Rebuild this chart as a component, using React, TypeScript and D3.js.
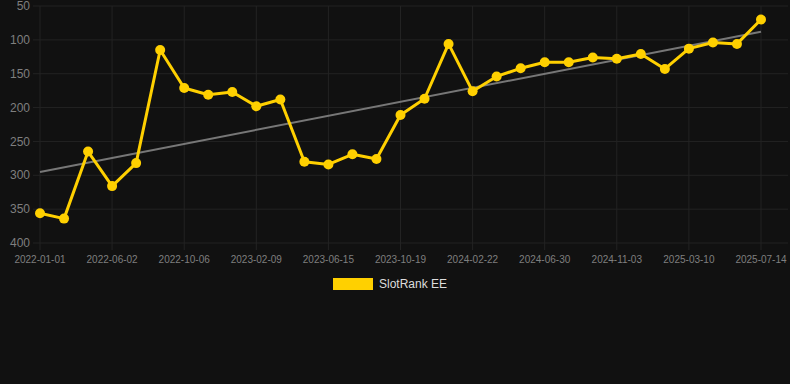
import React, { useEffect } from "react";
import * as d3 from "d3";

const categories = [
  "2022-01-01", "2022-03-12", "2022-04-21", "2022-06-02", "2022-07-14", "2022-08-25",
  "2022-10-06", "2022-11-17", "2022-12-29", "2023-02-09", "2023-03-23", "2023-05-04",
  "2023-06-15", "2023-07-27", "2023-09-07", "2023-10-19", "2023-11-30", "2024-01-11",
  "2024-02-22", "2024-04-04", "2024-05-17", "2024-06-30", "2024-08-11", "2024-09-22",
  "2024-11-03", "2024-12-15", "2025-01-26", "2025-03-10", "2025-04-21", "2025-06-02",
  "2025-07-14",
];

const rankValues = [
  356, 364, 265, 316, 282, 115, 171, 181, 177, 198, 188, 280, 284, 269, 276, 211,
  187, 106, 176, 154, 142, 133, 133, 126, 128, 121, 143, 113, 104, 106, 70,
];

const trendValues = [295, 88];
const yTicks = [50, 100, 150, 200, 250, 300, 350, 400];
const xTickEvery = 3;
const seriesName = "SlotRank EE";

const W = 790;
const H = 384;
const M = { left: 40, right: 29, top: 6, bottom: 141 };

export default function App() {
  useEffect(() => {
    document.body.style.margin = "0";
    document.body.style.background = "#111111";
  }, []);

  const x = d3
    .scalePoint<string>()
    .domain(categories)
    .range([M.left, W - M.right]);
  const y = d3.scaleLinear().domain([50, 400]).range([M.top, H - M.bottom]);

  const line = d3
    .line<number>()
    .x((_, i) => x(categories[i]) as number)
    .y((d) => y(d));

  const font = "Arial, 'Liberation Sans', Helvetica, sans-serif";
  const gridColor = "#232323";
  const labelColor = "#7f7f7f";
  const x0 = x(categories[0]) as number;
  const x1 = x(categories[categories.length - 1]) as number;

  return (
    <svg width={W} height={H} style={{ display: "block", background: "#111111" }}>
      {yTicks.map((t) => (
        <g key={"y" + t}>
          <line x1={33} x2={788} y1={y(t)} y2={y(t)} stroke={gridColor} strokeWidth={1} />
          <text
            x={30}
            y={y(t)}
            dy="0.35em"
            textAnchor="end"
            fill={labelColor}
            fontSize={12}
            fontFamily={font}
          >
            {t}
          </text>
        </g>
      ))}
      {categories.map((c, i) =>
        i % xTickEvery === 0 ? (
          <g key={"x" + c}>
            <line
              x1={x(c)}
              x2={x(c)}
              y1={M.top}
              y2={H - M.bottom + 7}
              stroke={gridColor}
              strokeWidth={1}
            />
            <text
              x={x(c)}
              y={259}
              dy="0.35em"
              textAnchor="middle"
              fill={labelColor}
              fontSize={10}
              fontFamily={font}
            >
              {c}
            </text>
          </g>
        ) : null
      )}
      <line
        x1={x0}
        x2={x1}
        y1={y(trendValues[0])}
        y2={y(trendValues[1])}
        stroke="#777777"
        strokeWidth={2}
      />
      <path d={line(rankValues) || ""} fill="none" stroke="#FFD000" strokeWidth={3} strokeLinejoin="round" />
      {rankValues.map((v, i) => (
        <circle key={"p" + i} cx={x(categories[i])} cy={y(v)} r={5} fill="#FFD000" />
      ))}
      <rect x={333} y={278} width={40} height={12} fill="#FFD000" />
      <text x={379} y={284} dy="0.35em" fill="#dddddd" fontSize={12} fontFamily={font}>
        {seriesName}
      </text>
    </svg>
  );
}
